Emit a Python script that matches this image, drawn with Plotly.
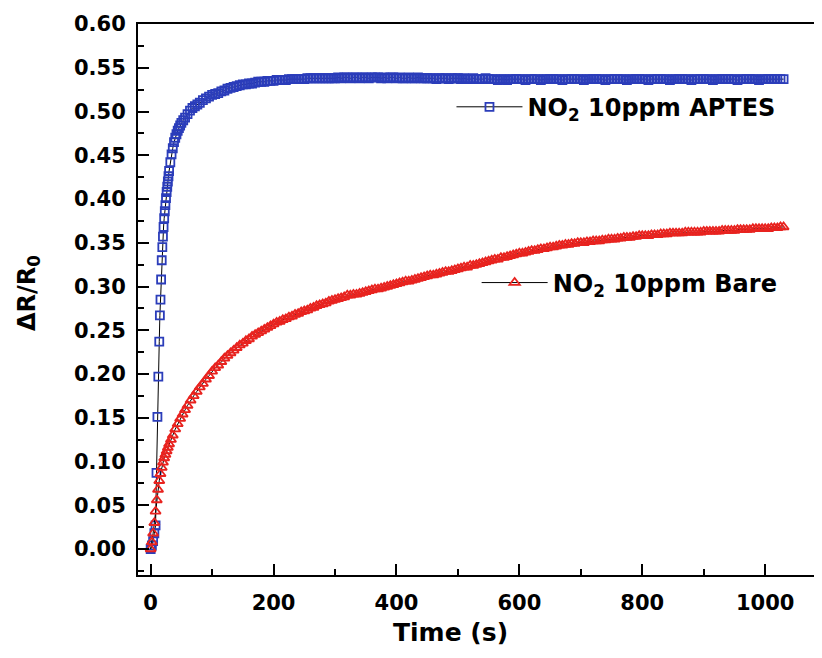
import plotly.graph_objects as go

# ---------------- data ----------------
aptes_t_early = [0, 2, 4, 6, 8, 9.5, 11, 12.5, 14, 15, 16, 17, 18, 19, 20, 21, 22, 23, 24, 25,
                 26, 27, 28, 29, 30, 32, 34, 36, 38, 40, 42, 44, 46, 48, 50, 53, 56, 60, 64, 68,
                 72, 76, 80, 85, 90, 95, 100]
aptes_v_early = [0.000, 0.004, 0.009, 0.018, 0.027, 0.087, 0.151, 0.197, 0.237, 0.267,
                 0.285, 0.308, 0.330, 0.345, 0.357, 0.368, 0.378, 0.386, 0.393, 0.401,
                 0.408, 0.414, 0.420, 0.426, 0.432, 0.442, 0.451, 0.458, 0.465, 0.470,
                 0.474, 0.478, 0.481, 0.484, 0.487, 0.490, 0.493, 0.497, 0.501, 0.504,
                 0.506, 0.508, 0.510, 0.513, 0.515, 0.517, 0.519]

bare_t_early = [0, 2, 4, 6, 8, 10, 12, 14, 16, 18, 20, 22, 24, 26, 28, 30, 33, 36, 40, 44,
                48, 52, 56, 60, 65, 70, 75, 80, 85, 90, 95, 100]
bare_v_early = [0.000, 0.008, 0.018, 0.030, 0.043, 0.056, 0.068, 0.078, 0.086, 0.093,
                0.099, 0.104, 0.108, 0.112, 0.116, 0.120, 0.125, 0.130, 0.137, 0.143,
                0.149, 0.154, 0.159, 0.164, 0.170, 0.175, 0.180, 0.185, 0.189, 0.194,
                0.198, 0.203]

late_t = [105, 110, 115, 120, 125, 130, 135, 140, 145,
          150, 155, 160, 165, 170, 175, 180, 185, 190, 195,
          200, 205, 210, 215, 220, 225, 230, 235, 240, 245,
          250, 255, 260, 265, 270, 275, 280, 285, 290, 295,
          300, 305, 310, 315, 320, 325, 330, 335, 340, 345,
          350, 355, 360, 365, 370, 375, 380, 385, 390, 395,
          400, 405, 410, 415, 420, 425, 430, 435, 440, 445,
          450, 455, 460, 465, 470, 475, 480, 485, 490, 495,
          500, 505, 510, 515, 520, 525, 530, 535, 540, 545,
          550, 555, 560, 565, 570, 575, 580, 585, 590, 595,
          600, 605, 610, 615, 620, 625, 630, 635, 640, 645,
          650, 655, 660, 665, 670, 675, 680, 685, 690, 695,
          700, 705, 710, 715, 720, 725, 730, 735, 740, 745,
          750, 755, 760, 765, 770, 775, 780, 785, 790, 795,
          800, 805, 810, 815, 820, 825, 830, 835, 840, 845,
          850, 855, 860, 865, 870, 875, 880, 885, 890, 895,
          900, 905, 910, 915, 920, 925, 930, 935, 940, 945,
          950, 955, 960, 965, 970, 975, 980, 985, 990, 995,
          1000, 1005, 1010, 1015, 1020, 1025, 1030]

aptes_v_late = [0.520, 0.521, 0.523, 0.524, 0.526, 0.527, 0.528, 0.529, 0.530,
                0.531, 0.531, 0.532, 0.532, 0.533, 0.534, 0.534, 0.534, 0.535, 0.535,
                0.535, 0.536, 0.536, 0.536, 0.536, 0.537, 0.537, 0.537, 0.537, 0.537,
                0.537, 0.538, 0.538, 0.538, 0.538, 0.538, 0.538, 0.538, 0.538, 0.538,
                0.538, 0.539, 0.538, 0.539, 0.539, 0.538, 0.539, 0.539, 0.538, 0.539,
                0.539, 0.538, 0.539, 0.539, 0.539, 0.538, 0.539, 0.538, 0.539, 0.539,
                0.538, 0.539, 0.538, 0.538, 0.539, 0.538, 0.538, 0.539, 0.538, 0.538,
                0.538, 0.538, 0.538, 0.537, 0.538, 0.538, 0.538, 0.537, 0.538, 0.538,
                0.538, 0.537, 0.538, 0.537, 0.537, 0.538, 0.537, 0.537, 0.537, 0.538,
                0.537, 0.537, 0.537, 0.536, 0.537, 0.537, 0.536, 0.537, 0.537, 0.537,
                0.537, 0.537, 0.536, 0.537, 0.537, 0.537, 0.537, 0.536, 0.537, 0.537,
                0.537, 0.537, 0.537, 0.537, 0.536, 0.537, 0.537, 0.537, 0.537, 0.537,
                0.537, 0.536, 0.537, 0.537, 0.537, 0.537, 0.537, 0.537, 0.536, 0.537,
                0.537, 0.537, 0.537, 0.537, 0.537, 0.536, 0.537, 0.537, 0.537, 0.537,
                0.537, 0.537, 0.536, 0.537, 0.537, 0.537, 0.537, 0.537, 0.537, 0.536,
                0.537, 0.537, 0.537, 0.537, 0.537, 0.537, 0.536, 0.537, 0.537, 0.537,
                0.537, 0.537, 0.537, 0.536, 0.537, 0.537, 0.537, 0.537, 0.537, 0.537,
                0.537, 0.536, 0.537, 0.537, 0.537, 0.537, 0.537, 0.537, 0.536, 0.537,
                0.537, 0.537, 0.537, 0.537, 0.537, 0.537, 0.537]

bare_v_late = [0.207, 0.210, 0.214, 0.218, 0.221, 0.224, 0.227, 0.230, 0.233,
               0.235, 0.238, 0.240, 0.243, 0.245, 0.247, 0.249, 0.251, 0.253, 0.255,
               0.257, 0.259, 0.260, 0.262, 0.263, 0.265, 0.266, 0.268, 0.269, 0.271,
               0.272, 0.273, 0.275, 0.276, 0.278, 0.279, 0.280, 0.281, 0.283, 0.284,
               0.285, 0.286, 0.287, 0.288, 0.290, 0.290, 0.291, 0.291, 0.292, 0.293,
               0.294, 0.295, 0.296, 0.297, 0.297, 0.298, 0.299, 0.300, 0.301, 0.302,
               0.303, 0.304, 0.305, 0.306, 0.306, 0.307, 0.308, 0.309, 0.310, 0.311,
               0.312, 0.313, 0.313, 0.314, 0.315, 0.316, 0.317, 0.317, 0.318, 0.319,
               0.320, 0.321, 0.322, 0.322, 0.324, 0.324, 0.325, 0.326, 0.327, 0.328,
               0.329, 0.330, 0.331, 0.331, 0.333, 0.333, 0.334, 0.335, 0.336, 0.337,
               0.338, 0.338, 0.339, 0.340, 0.341, 0.341, 0.342, 0.343, 0.343, 0.344,
               0.345, 0.345, 0.346, 0.347, 0.347, 0.348, 0.348, 0.349, 0.349, 0.350,
               0.350, 0.350, 0.351, 0.351, 0.352, 0.352, 0.352, 0.353, 0.353, 0.354,
               0.354, 0.354, 0.355, 0.355, 0.356, 0.356, 0.356, 0.357, 0.357, 0.358,
               0.358, 0.358, 0.358, 0.359, 0.359, 0.359, 0.360, 0.360, 0.360, 0.361,
               0.361, 0.361, 0.361, 0.361, 0.362, 0.362, 0.362, 0.362, 0.362, 0.362,
               0.363, 0.363, 0.363, 0.363, 0.363, 0.363, 0.364, 0.364, 0.364, 0.364,
               0.364, 0.365, 0.365, 0.365, 0.365, 0.365, 0.366, 0.366, 0.366, 0.366,
               0.366, 0.366, 0.367, 0.367, 0.367, 0.368, 0.368]

aptes_t = aptes_t_early + late_t
aptes_v = aptes_v_early + aptes_v_late
bare_t = bare_t_early + late_t
bare_v = bare_v_early + bare_v_late

x_ticks = [0, 200, 400, 600, 800, 1000]
y_ticks = [0.00, 0.05, 0.10, 0.15, 0.20, 0.25, 0.30, 0.35, 0.40, 0.45, 0.50, 0.55, 0.60]

name_aptes = "NO<sub>2</sub> 10ppm APTES"
name_bare = "NO<sub>2</sub> 10ppm Bare"

# ---------------- figure ----------------
FONT = "DejaVu Sans"
fig = go.Figure()

fig.add_trace(go.Scatter(
    x=aptes_t, y=aptes_v, mode="lines+markers", name=name_aptes, legend="legend",
    line=dict(color="black", width=1),
    marker=dict(symbol="square-open", size=8, color="#2b3dba", line=dict(width=1.8, color="#2b3dba")),
))
fig.add_trace(go.Scatter(
    x=bare_t, y=bare_v, mode="lines+markers", name=name_bare, legend="legend2",
    line=dict(color="black", width=1),
    marker=dict(symbol="triangle-up-open", size=9, color="#e8231f", line=dict(width=1.8, color="#e8231f")),
))

axis_common = dict(
    showline=True, linewidth=2, linecolor="black", mirror=True,
    showgrid=False, zeroline=False,
    ticks="inside", ticklen=11, tickwidth=2, tickcolor="black",
    tickfont=dict(family=FONT, size=21, color="black", weight="bold"),
)

fig.update_xaxes(
    range=[-20.6, 1086], tickvals=x_ticks, ticktext=[str(v) for v in x_ticks],
    minor=dict(dtick=100, tick0=0, ticks="inside", ticklen=6, tickwidth=2, tickcolor="black"),
    ticklabelstandoff=8,
    **axis_common,
)
fig.update_yaxes(
    range=[-0.0297, 0.600], tickvals=y_ticks, ticktext=[f"{v:.2f}" for v in y_ticks],
    minor=dict(dtick=0.025, tick0=0, ticks="inside", ticklen=6, tickwidth=2, tickcolor="black"),
    ticklabelstandoff=6,
    **axis_common,
)

legend_common = dict(
    xanchor="left", yanchor="middle", bgcolor="rgba(0,0,0,0)", borderwidth=0,
    font=dict(family=FONT, size=24, color="black", weight="bold"),
    itemwidth=66,
)

# the page body adds an 8 px offset, so the figure is 8 px smaller than the window
fig.update_layout(
    width=814, height=650, autosize=False,
    margin=dict(l=130, r=2, t=16, b=83),
    paper_bgcolor="white", plot_bgcolor="white",
    font=dict(family=FONT, color="black"),
    showlegend=True,
    legend=dict(x=0.461, y=0.849, **legend_common),
    legend2=dict(x=0.498, y=0.530, **legend_common),
    annotations=[
        dict(text="Time (s)", xref="paper", yref="paper", x=0.459, y=-0.105,
             xanchor="center", yanchor="middle", showarrow=False,
             font=dict(family=FONT, size=25, color="black", weight="bold")),
        dict(text="ΔR/R<sub>0</sub>", xref="paper", yref="paper", x=-0.161, y=0.511,
             xanchor="center", yanchor="middle", showarrow=False, textangle=-90,
             font=dict(family=FONT, size=24, color="black", weight="bold")),
    ],
)

fig.write_html("out.html")
